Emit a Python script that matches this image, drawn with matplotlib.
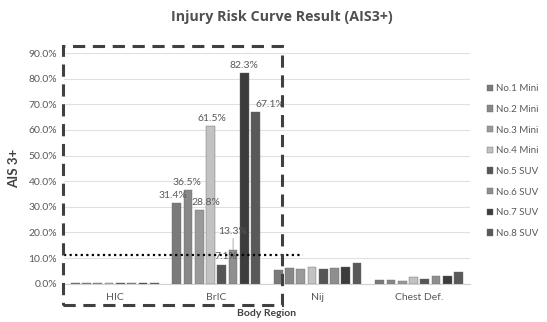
import numpy as np
import matplotlib.pyplot as plt
from matplotlib.patches import Rectangle

plt.rcParams['font.family'] = ['Lato', 'DejaVu Sans']

# AIS3+ injury risk per body region, one series per vehicle
regions = ["HIC", "BrIC", "Nij", "Chest Def."]
vehicles = ["No.1 Mini", "No.2 Mini", "No.3 Mini", "No.4 Mini",
            "No.5 SUV", "No.6 SUV", "No.7 SUV", "No.8 SUV"]
hic = [0.3, 0.3, 0.3, 0.3, 0.3, 0.3, 0.3, 0.3]
bric = [31.4, 36.5, 28.8, 61.5, 7.1, 13.3, 82.3, 67.1]
nij = [5.5, 6.2, 5.7, 6.4, 5.7, 6.1, 6.7, 8.1]
chest = [1.4, 1.4, 0.9, 2.5, 1.7, 2.9, 2.9, 4.7]
threshold = 11.2

colours = ["#7a7a7a", "#888888", "#9a9a9a", "#c2c2c2",
           "#555555", "#8e8e8e", "#3c3c3c", "#595959"]

data = np.array([hic, bric, nij, chest]) / 100.0

fig = plt.figure(figsize=(5.47, 3.22), dpi=100)
ax = fig.add_axes([0.117, 0.119, 0.742, 0.716])

x = np.arange(len(regions))
slot = 0.111
width = 0.086
for i, name in enumerate(vehicles):
    ax.bar(x + (i - 3.5) * slot, data[:, i], width, color=colours[i],
           edgecolor="#6a6a6a", linewidth=0.3, label=name, zorder=3)

# value labels on the BrIC group only
offsets = [(-3, 2), (-1, 2), (5, 2), (1, 2), (3, 3), (0, 10), (0, 2), (10, 2)]
for i, v in enumerate(bric):
    xi = 1 + (i - 3.5) * slot
    dx, dy = offsets[i]
    if i == 5:
        ax.annotate(f"{v:.1f}%", xy=(xi, v / 100), xytext=(dx, dy),
                    textcoords="offset points", ha="center", va="bottom",
                    fontsize=7.5, color="#595959",
                    arrowprops=dict(arrowstyle="-", color="#a0a0a0", lw=0.6,
                                    shrinkA=0, shrinkB=0))
    else:
        ax.annotate(f"{v:.1f}%", xy=(xi, v / 100), xytext=(dx, dy),
                    textcoords="offset points", ha="center", va="bottom",
                    fontsize=7.5, color="#595959", zorder=4)

ax.set_xlim(-0.5, 3.5)
ax.set_ylim(0, 0.9)
ax.set_yticks(np.arange(0, 0.91, 0.1))
ax.set_yticklabels([f"{t * 100:.1f}%" for t in np.arange(0, 0.91, 0.1)])
ax.set_xticks(x)
ax.set_xticklabels(regions)
ax.tick_params(length=0, labelsize=7.5, colors="#595959", pad=5)
ax.tick_params(axis="x", pad=7)
ax.grid(axis="y", color="#e0e0e0", linewidth=0.8, zorder=0)
for s in ["top", "right", "left"]:
    ax.spines[s].set_visible(False)
ax.spines["bottom"].set_color("#d0d0d0")

# threshold line
ax.plot([-0.5, 1.855], [threshold / 100] * 2, color="black", linestyle=(0, (1, 1.5)),
        linewidth=1.6, zorder=5, clip_on=False)

# dashed box round HIC and BrIC
box = Rectangle((-0.51, -0.094), 2.16, 1.123, transform=ax.get_xaxis_transform(),
                fill=False, edgecolor="#404040", linewidth=2.2,
                linestyle=(0, (4, 2.5)), clip_on=False, zorder=6)
ax.add_patch(box)

ax.set_ylabel("AIS 3+", fontsize=9.5, fontweight="bold", color="#404040", labelpad=6)
ax.set_xlabel("Body Region", fontsize=7.5, fontweight="bold", color="#404040", labelpad=5)
fig.suptitle("Injury Risk Curve Result (AIS3+)", fontsize=10.3, fontweight="bold",
             family=["Open Sans", "DejaVu Sans"], color="#505050", x=0.515, y=0.97)

leg = ax.legend(loc="center left", bbox_to_anchor=(1.02, 0.532), frameon=False,
                fontsize=7, handlelength=0.6, handleheight=0.6,
                handletextpad=0.4, labelspacing=1.2, labelcolor="#595959")

fig.savefig("out.png", dpi=100)
